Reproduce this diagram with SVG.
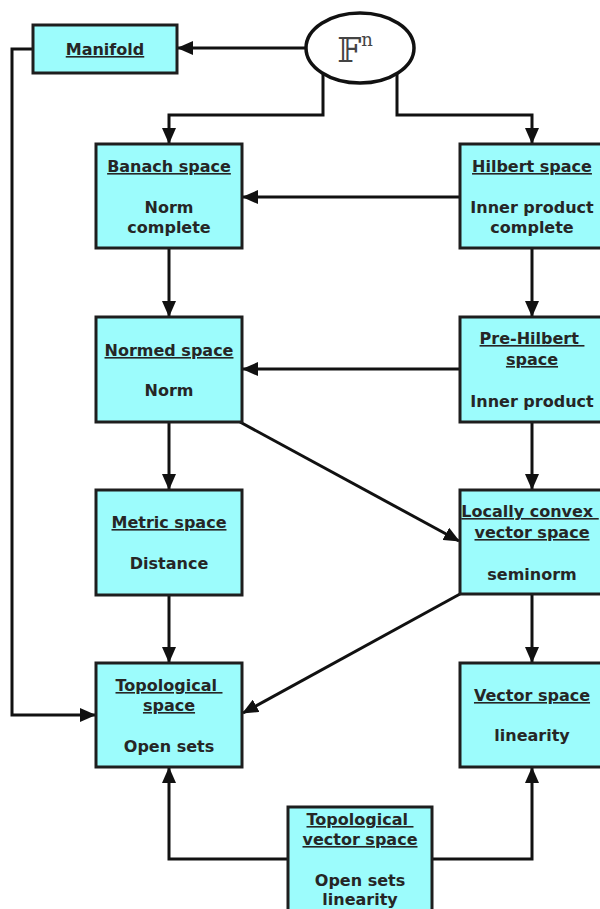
<svg xmlns="http://www.w3.org/2000/svg" width="600" height="909" viewBox="0 0 600 909">
<style>
.box{fill:#9cfcfc;stroke:#1e1e1e;stroke-width:3}
.t{font-family:"DejaVu Sans","Liberation Sans",sans-serif;font-weight:bold;font-size:16px;fill:#262626;text-anchor:middle;white-space:pre}
.u{text-decoration:underline}
.c{fill:none;stroke:#111;stroke-width:3;marker-end:url(#ah)}
</style>
<defs>
<marker id="ah" viewBox="0 0 16 14" refX="15" refY="7" markerWidth="16" markerHeight="14" markerUnits="userSpaceOnUse" orient="auto">
<path d="M0,0 L16,7 L0,14 z" fill="#111"/>
</marker>
</defs>
<rect width="600" height="909" fill="#fff"/>
<g id="connectors">
<path class="c" d="M306,48 H178"/>
<path class="c" d="M323,73 V115 H169 V143"/>
<path class="c" d="M397,73 V115 H532 V143"/>
<path class="c" d="M460,197 H243"/>
<path class="c" d="M169,248 V316"/>
<path class="c" d="M532,248 V316"/>
<path class="c" d="M460,369 H243"/>
<path class="c" d="M169,422 V489"/>
<path class="c" d="M240,422 L459,541"/>
<path class="c" d="M532,422 V489"/>
<path class="c" d="M169,595 V662"/>
<path class="c" d="M460,594 L243,713"/>
<path class="c" d="M532,594 V662"/>
<path class="c" d="M33,49 H12 V715 H95"/>
<path class="c" d="M288,859 H169 V768"/>
<path class="c" d="M432,859 H532 V768"/>
</g>
<g id="Fn">
<ellipse cx="360" cy="48" rx="54" ry="35" fill="#fff" stroke="#111" stroke-width="3.5"/>
<text x="355" y="62" font-family="DejaVu Serif,DejaVu Sans,serif" font-size="34" fill="#444" text-anchor="middle">𝔽<tspan font-size="18" dy="-16">n</tspan></text>
</g>
<g id="manifold">
<rect class="box" x="33" y="25" width="144" height="48"/>
<text class="t u" x="105" y="55">Manifold</text>
</g>
<g id="banach">
<rect class="box" x="96" y="144" width="146" height="104"/>
<text class="t u" x="169" y="172">Banach space</text>
<text class="t" x="169" y="213">Norm</text>
<text class="t" x="169" y="233">complete</text>
</g>
<g id="hilbert">
<rect class="box" x="460" y="144" width="146" height="104"/>
<text class="t u" x="532" y="172">Hilbert space</text>
<text class="t" x="532" y="213">Inner product</text>
<text class="t" x="532" y="233">complete</text>
</g>
<g id="normed">
<rect class="box" x="96" y="317" width="146" height="105"/>
<text class="t u" x="169" y="356">Normed space</text>
<text class="t" x="169" y="396">Norm</text>
</g>
<g id="prehilbert">
<rect class="box" x="460" y="317" width="146" height="105"/>
<text class="t u" x="532" y="344">Pre-Hilbert </text>
<text class="t u" x="532" y="365">space</text>
<text class="t" x="532" y="407">Inner product</text>
</g>
<g id="metric">
<rect class="box" x="96" y="490" width="146" height="105"/>
<text class="t u" x="169" y="528">Metric space</text>
<text class="t" x="169" y="569">Distance</text>
</g>
<g id="locallyconvex">
<rect class="box" x="460" y="490" width="146" height="104"/>
<text class="t u" x="530" y="517">Locally convex </text>
<text class="t u" x="532" y="538">vector space</text>
<text class="t" x="532" y="580">seminorm</text>
</g>
<g id="topological">
<rect class="box" x="96" y="663" width="146" height="104"/>
<text class="t u" x="169" y="691">Topological </text>
<text class="t u" x="169" y="711">space</text>
<text class="t" x="169" y="752">Open sets</text>
</g>
<g id="vector">
<rect class="box" x="460" y="663" width="146" height="104"/>
<text class="t u" x="532" y="701">Vector space</text>
<text class="t" x="532" y="741">linearity</text>
</g>
<g id="tvs">
<rect class="box" x="288" y="807" width="144" height="110"/>
<text class="t u" x="360" y="825">Topological </text>
<text class="t u" x="360" y="845">vector space</text>
<text class="t" x="360" y="886">Open sets</text>
<text class="t" x="360" y="905">linearity</text>
</g>
</svg>
